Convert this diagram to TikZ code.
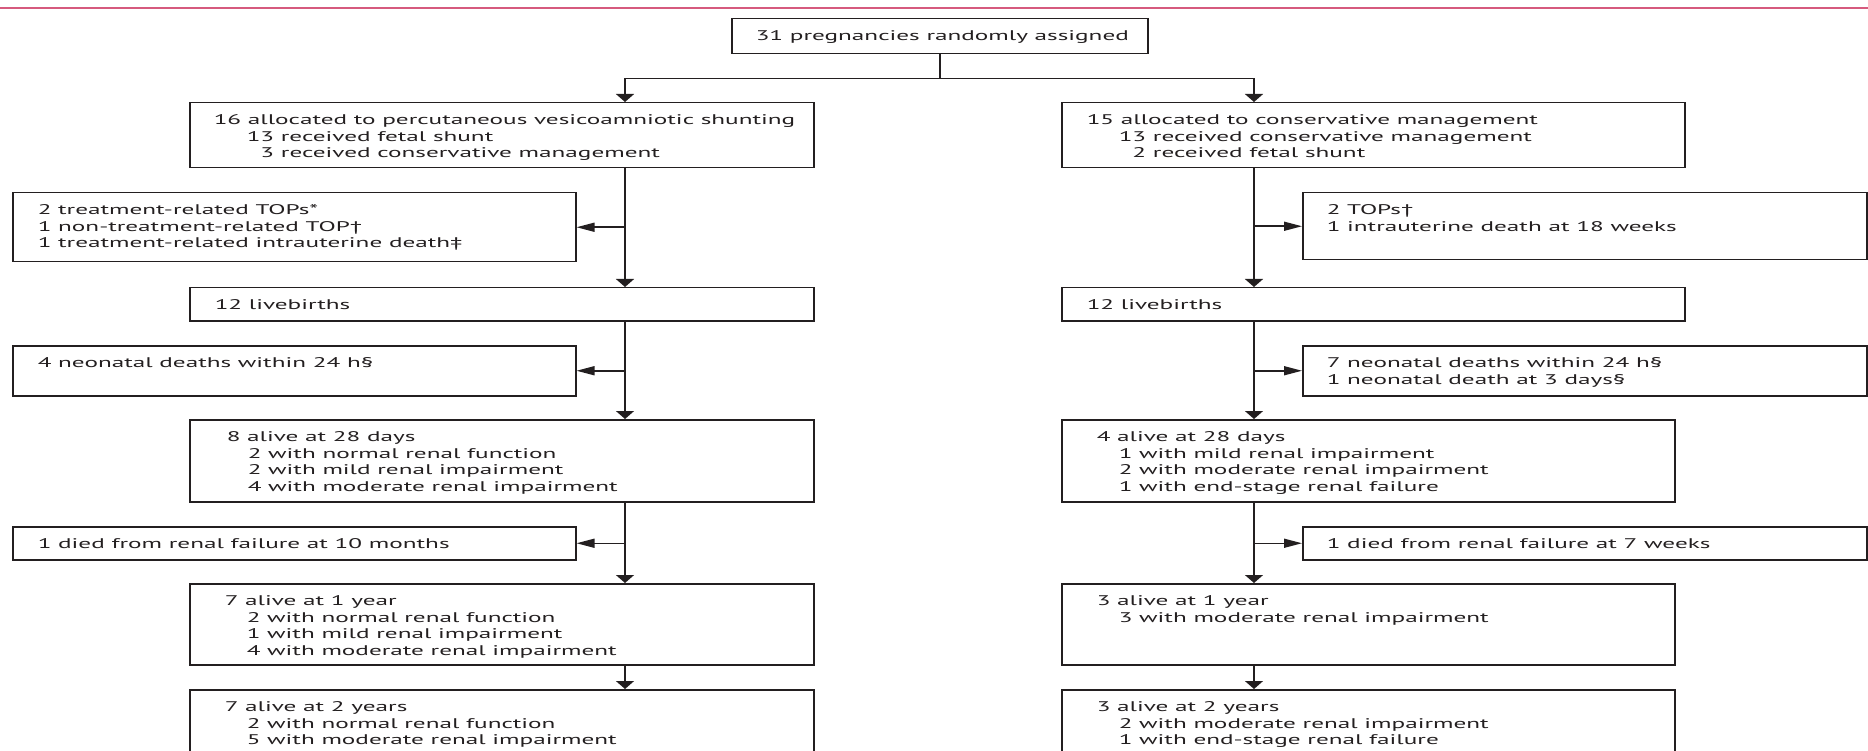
\documentclass[tikz,border=0pt]{standalone}
\usepackage{fontspec}
\setmainfont[FakeStretch=1.8]{PT Sans}
\usetikzlibrary{arrows.meta}
\definecolor{flowink}{HTML}{231F20}
\definecolor{flowrule}{HTML}{D65A7E}
\newcommand{\cell}[4]{\parbox[t][\dimexpr#2pt-16pt\relax][t]{#1pt}{\raggedright\leftskip=#3pt\relax\rule{0pt}{14pt}#4}}

\begin{document}
\begin{tikzpicture}[
    x=1pt, y=-1pt,
    every node/.style={font=\fontsize{14}{16.5}\selectfont, text=flowink},
    box/.style={draw=flowink, line width=1.5pt, anchor=north west, inner sep=0pt, inner ysep=8pt},
    link/.style={draw=flowink, line width=1.5pt},
    darr/.style={link, -{Triangle[length=8pt,width=18pt]}},
    harr/.style={link, -{Triangle[length=18pt,width=9pt]}},
  ]
  \useasboundingbox (0,0) rectangle (1868,751);
  \clip (0,0) rectangle (1868,751);
  \draw[flowrule, line width=1.5pt] (0,8) -- (1868,8);

  \coordinate (lx) at (625,0);
  \coordinate (rx) at (1254,0);

  \node[box] (rand) at (731,18) {\cell{416}{35}{24}{31 pregnancies randomly assigned}};

  \node[box] (l1) at (189,102) {\cell{624}{65}{24}{16 allocated to percutaneous vesicoamniotic shunting\\
    \hspace*{33pt}13 received fetal shunt\\
    \hspace*{33pt}\phantom{1}3 received conservative management}};
  \node[box] (r1) at (1061,102) {\cell{623}{65}{25}{15 allocated to conservative management\\
    \hspace*{32pt}13 received conservative management\\
    \hspace*{32pt}\phantom{1}2 received fetal shunt}};

  \node[box] (ls1) at (12,192) {\cell{563}{69}{25}{2 treatment-related TOPs*\\
    1 non-treatment-related TOP†\\
    1 treatment-related intrauterine death‡}};
  \node[box] (rs1) at (1302,192) {\cell{564}{67}{24}{2 TOPs†\\
    1 intrauterine death at 18 weeks}};

  \node[box] (l2) at (189,287) {\cell{624}{33}{25}{12 livebirths}};
  \node[box] (r2) at (1061,287) {\cell{623}{33}{25}{12 livebirths}};

  \node[box] (ls2) at (12,345) {\cell{563}{50}{25}{4 neonatal deaths within 24 h§}};
  \node[box] (rs2) at (1302,345) {\cell{564}{50}{24}{7 neonatal deaths within 24 h§\\
    1 neonatal death at 3 days§}};

  \node[box] (l3) at (189,419) {\cell{624}{82}{37}{8 alive at 28 days\\
    \hspace*{21pt}2 with normal renal function\\
    \hspace*{21pt}2 with mild renal impairment\\
    \hspace*{21pt}4 with moderate renal impairment}};
  \node[box] (r3) at (1061,419) {\cell{613}{82}{35}{4 alive at 28 days\\
    \hspace*{22pt}1 with mild renal impairment\\
    \hspace*{22pt}2 with moderate renal impairment\\
    \hspace*{22pt}1 with end-stage renal failure}};

  \node[box] (ls3) at (12,526) {\cell{563}{33}{25}{1 died from renal failure at 10 months}};
  \node[box] (rs3) at (1302,526) {\cell{564}{33}{24}{1 died from renal failure at 7 weeks}};

  \node[box] (l4) at (189,583) {\cell{624}{81}{35}{7 alive at 1 year\\
    \hspace*{22pt}2 with normal renal function\\
    \hspace*{22pt}1 with mild renal impairment\\
    \hspace*{22pt}4 with moderate renal impairment}};
  \node[box] (r4) at (1061,583) {\cell{613}{81}{35}{3 alive at 1 year\\
    \hspace*{22pt}3 with moderate renal impairment}};

  \node[box] (l5) at (189,689) {\cell{624}{82}{35}{7 alive at 2 years\\
    \hspace*{22pt}2 with normal renal function\\
    \hspace*{22pt}5 with moderate renal impairment}};
  \node[box] (r5) at (1061,689) {\cell{613}{82}{35}{3 alive at 2 years\\
    \hspace*{22pt}2 with moderate renal impairment\\
    \hspace*{22pt}1 with end-stage renal failure}};

  \draw[link] (rand.south) -- ++(0,24) coordinate (split);
  \draw[darr] (split) -| (l1.north -| lx);
  \draw[darr] (split) -| (r1.north -| rx);

  \draw[darr] (l1.south -| lx) -- (l2.north -| lx);
  \draw[harr] (ls1.east -| lx) -- (ls1.east);
  \draw[darr] (l2.south -| lx) -- (l3.north -| lx);
  \draw[harr] (ls2.east -| lx) -- (ls2.east);
  \draw[darr] (l3.south -| lx) -- (l4.north -| lx);
  \draw[harr] (ls3.east -| lx) -- (ls3.east);
  \draw[darr] (l4.south -| lx) -- (l5.north -| lx);

  \draw[darr] (r1.south -| rx) -- (r2.north -| rx);
  \draw[harr] (rs1.west -| rx) -- (rs1.west);
  \draw[darr] (r2.south -| rx) -- (r3.north -| rx);
  \draw[harr] (rs2.west -| rx) -- (rs2.west);
  \draw[darr] (r3.south -| rx) -- (r4.north -| rx);
  \draw[harr] (rs3.west -| rx) -- (rs3.west);
  \draw[darr] (r4.south -| rx) -- (r5.north -| rx);
\end{tikzpicture}
\end{document}
